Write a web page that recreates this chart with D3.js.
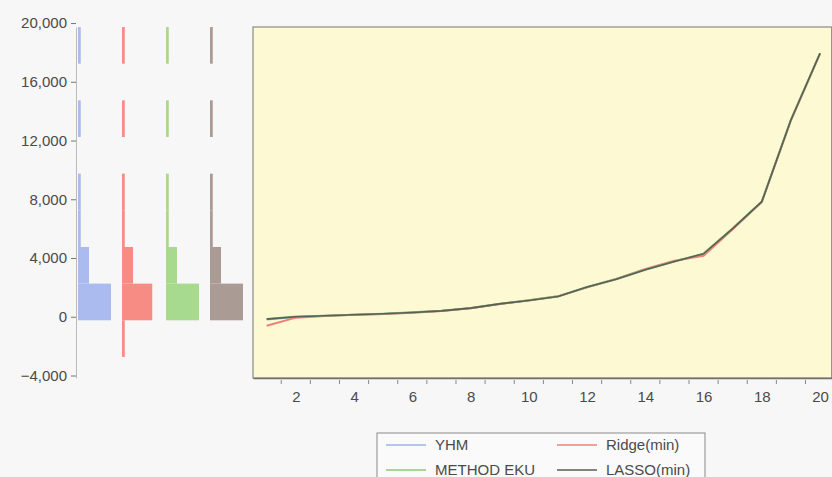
<!DOCTYPE html>
<html>
<head>
<meta charset="utf-8">
<script src="https://cdn.jsdelivr.net/npm/d3@7/dist/d3.min.js"></script>
<style>
  html, body { margin: 0; padding: 0; background: #f7f7f7; }
  svg { display: block; }
  text { font-family: Arial, "Liberation Sans", sans-serif; }
</style>
</head>
<body>
<svg id="chart" width="832" height="477"></svg>
<script>
// ---- data ----
const xValues = [1, 2, 3, 4, 5, 6, 7, 8, 9, 10, 11, 12, 13, 14, 15, 16, 17, 18, 19, 20];
const yhm     = [-180, -10, 65, 135, 195, 285, 395, 585, 875, 1100, 1375, 2015, 2555, 3195, 3755, 4280, 5990, 7830, 13390, 17930];
const ridge   = [-610, -60, 60, 130, 190, 280, 390, 580, 870, 1130, 1390, 2000, 2580, 3260, 3820, 4150, 5950, 7820, 13380, 17920];
const methodEku = [-150, 10, 75, 145, 210, 300, 410, 600, 890, 1120, 1390, 2030, 2570, 3210, 3770, 4300, 6020, 7850, 13420, 17950];
const lasso   = [-160, 0, 70, 140, 200, 290, 400, 590, 880, 1110, 1380, 2020, 2560, 3200, 3760, 4290, 6000, 7840, 13400, 17940];

const seriesNames = ["YHM", "Ridge(min)", "METHOD EKU", "LASSO(min)"];
const histColors = ["#abbbef", "#f68c84", "#a7d98f", "#aa9b94"];
const lineColors = ["#9fb3e6", "#ef7f78", "#8cc873", "#5c5d55"];
const binEdges = [-2736, -240, 2256, 4752, 7248, 9744, 12240, 14736, 17232, 19728];
const yTicks = [-4000, 0, 4000, 8000, 12000, 16000, 20000];
const xTicks = [2, 4, 6, 8, 10, 12, 14, 16, 18, 20];
const xMinorTicks = [1.5, 2.5, 3.5, 4.5, 5.5, 6.5, 7.5, 8.5, 9.5, 10.5, 11.5, 12.5, 13.5, 14.5, 15.5, 16.5, 17.5, 18.5, 19.5];

const allSeries = [yhm, ridge, methodEku, lasso];

// ---- scales ----
const svg = d3.select("#chart");
const y = d3.scaleLinear().domain([-4170, 19730]).range([378, 27]);
const band = d3.scaleBand().domain(seriesNames).range([78, 254]).padding(0);
const countW = d3.scaleLinear().domain([0, 12]).range([0, 33]);
const x = d3.scaleLinear().domain([0.53, 20.4]).range([253, 831.7]);

// ---- left histogram panel ----
const yAxis = d3.axisLeft(y).tickValues(yTicks).tickFormat(d3.format(","))
  .tickSizeInner(5).tickSizeOuter(0).tickPadding(4);
const yg = svg.append("g").attr("transform", "translate(76,0)").call(yAxis);
yg.select(".domain").attr("stroke", "#bbb").attr("stroke-width", 1);
yg.selectAll(".tick line").attr("stroke", "#777");
yg.selectAll(".tick text").attr("fill", "#4a4a4a").style("font-size", "15px");

const binner = d3.bin().domain([binEdges[0], binEdges[binEdges.length - 1]]).thresholds(binEdges.slice(1, -1));

seriesNames.forEach((name, i) => {
  const bins = binner(allSeries[i]).filter(b => b.length > 0);
  svg.append("g").selectAll("rect").data(bins).join("rect")
    .attr("x", band(name))
    .attr("y", d => y(d.x1))
    .attr("width", d => countW(d.length))
    .attr("height", d => y(d.x0) - y(d.x1))
    .attr("fill", histColors[i]);
});

// ---- right line panel ----
svg.append("rect")
  .attr("x", x.range()[0]).attr("y", y.range()[1])
  .attr("width", x.range()[1] - x.range()[0])
  .attr("height", y.range()[0] - y.range()[1])
  .attr("fill", "#fcf9d3").attr("stroke", "#8a8a85").attr("stroke-width", 1.2);

const line = d3.line().x((d, j) => x(xValues[j])).y(d => y(d));
[0, 1, 2, 3].forEach(i => {
  svg.append("path").datum(allSeries[i])
    .attr("d", line)
    .attr("fill", "none")
    .attr("stroke", lineColors[i])
    .attr("stroke-width", i === 3 ? 1.6 : 2)
    .attr("stroke-linejoin", "round");
});

const xAxis = d3.axisBottom(x).tickValues(xTicks).tickFormat(d3.format("d"))
  .tickSize(0).tickPadding(13);
const xg = svg.append("g").attr("transform", `translate(0,${y.range()[0]})`).call(xAxis);
xg.select(".domain").attr("stroke", "#6f6f6c").attr("stroke-width", 1.3);
xg.selectAll(".tick text").attr("fill", "#4a4a4a").style("font-size", "15px");

svg.append("g").selectAll("line").data(xMinorTicks).join("line")
  .attr("x1", d => x(d)).attr("x2", d => x(d))
  .attr("y1", y.range()[0] + 2).attr("y2", y.range()[0] + 6)
  .attr("stroke", "#888").attr("stroke-width", 1);

// ---- legend ----
const legend = svg.append("g");
legend.append("rect")
  .attr("x", 377).attr("y", 433).attr("width", 328).attr("height", 60)
  .attr("fill", "#fafafa").attr("stroke", "#8a8a8a").attr("stroke-width", 1);
const legendItems = [
  { name: "YHM", color: lineColors[0], lx: 386, ly: 445 },
  { name: "Ridge(min)", color: lineColors[1], lx: 557, ly: 445 },
  { name: "METHOD EKU", color: lineColors[2], lx: 386, ly: 470 },
  { name: "LASSO(min)", color: lineColors[3], lx: 557, ly: 470 }
];
legendItems.forEach(it => {
  legend.append("line")
    .attr("x1", it.lx).attr("x2", it.lx + 40)
    .attr("y1", it.ly).attr("y2", it.ly)
    .attr("stroke", it.color).attr("stroke-width", 1.3);
  legend.append("text")
    .attr("x", it.lx + 49).attr("y", it.ly + 5)
    .attr("fill", "#4a4a4a").style("font-size", "15px")
    .text(it.name);
});
</script>
</body>
</html>
